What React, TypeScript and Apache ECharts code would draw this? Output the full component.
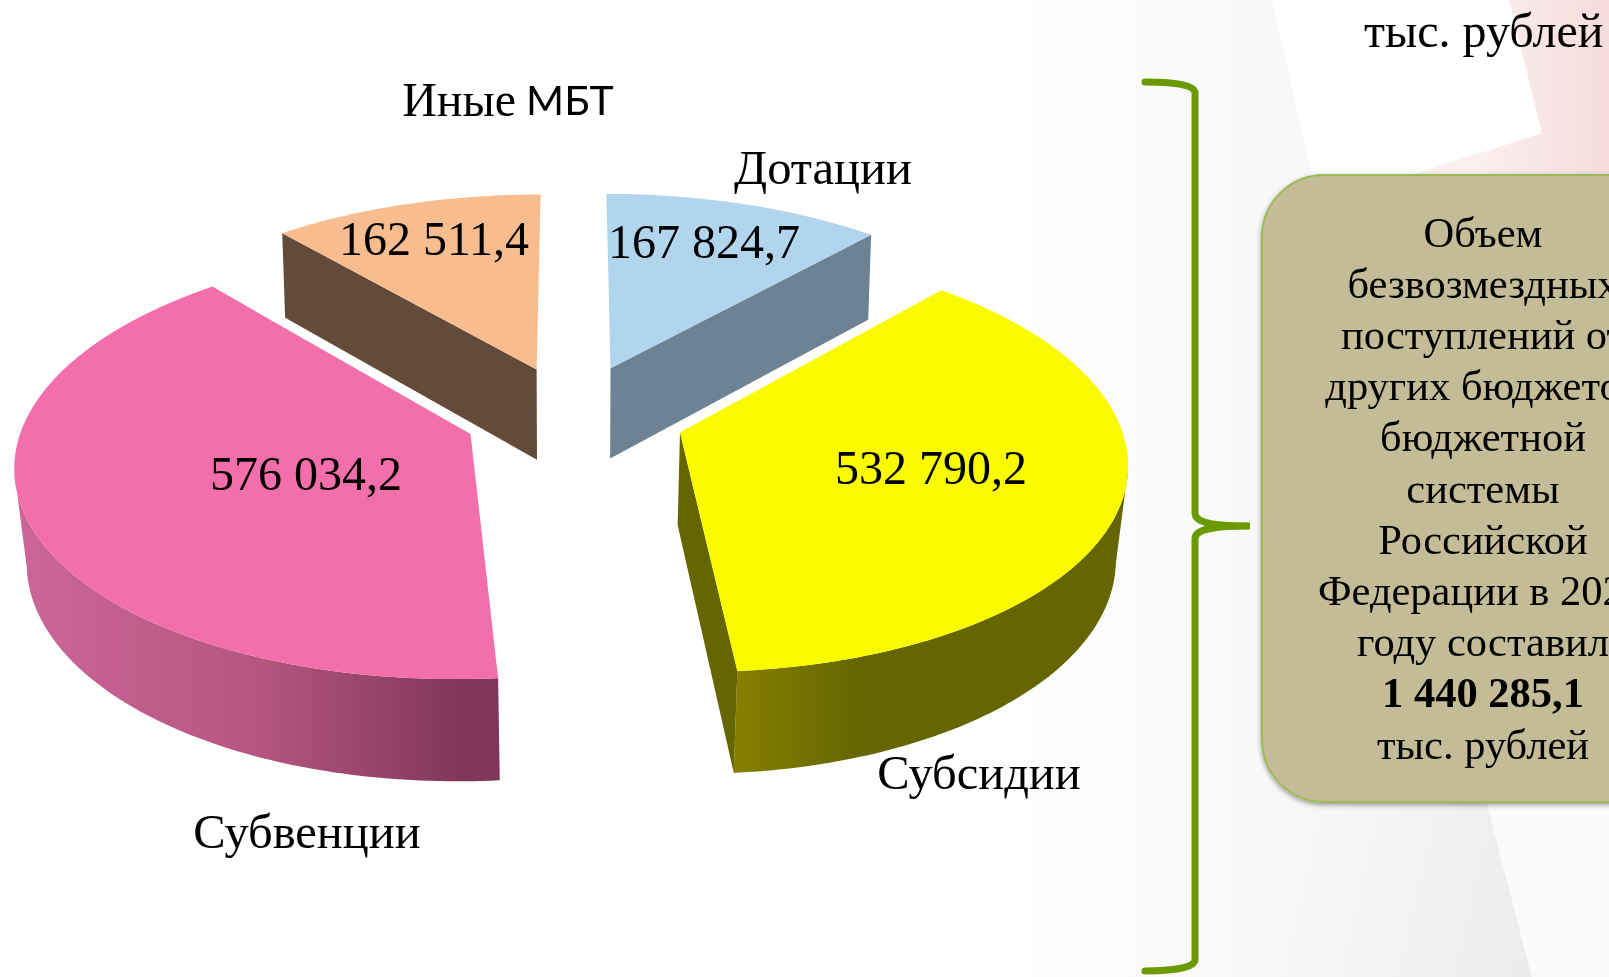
import React, { useEffect, useRef } from "react";
import * as echarts from "echarts";

// ---- data ----
const categories = ["Дотации", "Субсидии", "Субвенции", "Иные МБТ"];
const values = [167824.7, 532790.2, 576034.2, 162511.4];
const valueLabels = ["167 824,7", "532 790,2", "576 034,2", "162 511,4"];
const unitLabel = "тыс. рублей";
const boxLines = [
  "Объем",
  "безвозмездных",
  "поступлений от",
  "других бюджетов",
  "бюджетной",
  "системы",
  "Российской",
  "Федерации в 202",
  "году составил",
  "1 440 285,1",
  "тыс. рублей",
];

// ---- styles ----
const topColors = ["#b1d5ec", "#fbfb00", "#f26fab", "#f7bd8e"];
const edgeColors = ["#6d8393", "#666600", "", "#644a38"];
const edgeSide = ["end", "end", "", "start"];
const SERIF = '"Liberation Serif", serif';

// ---- projection of the exploded disc ----
const CX = 573, CY = 414, R = 445, EXPLODE = 107.75, F = 3489, TILT = 0.468, DEPTH = 92;
const WALL_FROM = 100, WALL_TO = 260;
const radiusAdj = [-2, -7, 0, 0];
const explodeAdj = [0, 4, 2, 0];
const yAdj = [0, 1.5, 0, 1.5];
const bottomShrink = [0.99, 0.978, 0.978, 0.99];
const project = (x: number, z: number, i: number, bottom = false) => {
  const s = F / (F - z);
  const px = x * s;
  const py = TILT * z * s + yAdj[i];
  return bottom
    ? [CX + px * bottomShrink[i], CY + py + DEPTH * Math.pow(s, 0.7)]
    : [CX + px, CY + py];
};
const rad = (d: number) => (d * Math.PI) / 180;

// ---- label layout ----
const valuePos = [[704, 241.5], [931, 467.5], [306, 473], [434, 238.5]];
const namePos = [[823, 167], [979, 772], [307, 831], [508, 99]];

const total = values.reduce((a, b) => a + b, 0);

const wallFill = [
  null,
  new echarts.graphic.LinearGradient(735, 0, 857, 0, [
    { offset: 0, color: "#858000" },
    { offset: 1, color: "#666600" },
  ], true),
  new echarts.graphic.LinearGradient(20, 0, 497, 0, [
    { offset: 0, color: "#cc6699" },
    { offset: 0.5, color: "#b5567f" },
    { offset: 0.93, color: "#7f3759" },
    { offset: 1, color: "#7f3759" },
  ], true),
  null,
];

const renderSlice = (params: any, api: any) => {
  const i = params.dataIndex;
  const v = api.value(0);
  let before = 0;
  for (let k = 0; k < i; k++) before += values[k];
  const a0 = (before / total) * 360;
  const a1 = ((before + v) / total) * 360;
  const mid = rad((a0 + a1) / 2);
  const ex = EXPLODE + explodeAdj[i];
  const rr = R + radiusAdj[i];
  const ox = Math.sin(mid) * ex;
  const oz = -Math.cos(mid) * ex;
  const at = (deg: number, r: number, bottom = false) =>
    project(ox + Math.sin(rad(deg)) * r, oz - Math.cos(rad(deg)) * r, i, bottom);

  const children: any[] = [];
  // outer wall, front part only, up to the silhouette of the disc
  const w0 = Math.max(a0, WALL_FROM);
  const w1 = Math.min(a1, WALL_TO);
  if (w1 > w0 && wallFill[i]) {
    const upper: number[][] = [];
    const lower: number[][] = [];
    for (let d = w0; d <= w1 + 1e-6; d += 1) {
      upper.push(at(d, rr));
      lower.unshift(at(d, rr, true));
    }
    upper.push(at(w1, rr));
    lower.unshift(at(w1, rr, true));
    children.push({
      type: "polygon",
      shape: { points: upper.concat(lower) },
      style: { fill: wallFill[i] },
    });
  }
  // radial wall
  if (edgeSide[i]) {
    const e = edgeSide[i] === "end" ? a1 : a0;
    children.push({
      type: "polygon",
      shape: {
        points: [at(0, 0), at(e, rr), at(e, rr, true), at(0, 0, true)],
      },
      style: { fill: edgeColors[i] },
    });
  }
  // top face
  const face: number[][] = [at(0, 0)];
  for (let d = a0; d < a1; d += 1) face.push(at(d, rr));
  face.push(at(a1, rr));
  children.push({
    type: "polygon",
    shape: { points: face },
    style: { fill: topColors[i] },
  });
  // value label
  children.push({
    type: "text",
    z2: 10,
    style: {
      text: valueLabels[i],
      x: valuePos[i][0],
      y: valuePos[i][1],
      align: "center",
      verticalAlign: "middle",
      fontFamily: SERIF,
      fontSize: 48,
      fill: "#000",
    },
  });
  // name label
  const name = categories[i];
  const parts = name === "Иные МБТ"
    ? {
        text: "{a|Иные}   {b|МБТ}",
        rich: {
          a: { fontFamily: SERIF, fontSize: 48, fill: "#000", color: "#000" },
          b: { fontFamily: "Lato, sans-serif", fontSize: 41, fill: "#000", color: "#000" },
        },
      }
    : { text: name, fontFamily: SERIF, fontSize: 48.5, fill: "#000" };
  children.push({
    type: "text",
    z2: 10,
    style: {
      ...parts,
      x: namePos[i][0],
      y: namePos[i][1],
      align: "center",
      verticalAlign: "middle",
    },
  });
  return { type: "group", children };
};

echarts.graphic.registerShape(
  "brace",
  echarts.graphic.extendPath(
    "M1145 82 C1170 82 1195 84 1195 93 L1195 513 C1195 521 1206 526 1250 526 C1206 526 1195 531 1195 539 L1195 960 C1195 968 1170 971 1145 971",
    {}
  )
);

const grad = (x0: number, y0: number, x1: number, y1: number, c0: string, c1: string) =>
  new echarts.graphic.LinearGradient(x0, y0, x1, y1, [
    { offset: 0, color: c0 },
    { offset: 1, color: c1 },
  ], true);

const boxTexts = boxLines.map((line, i) => {
  const clipped = line === "Федерации в 202";
  return {
    type: "text",
    style: {
      text: line,
      x: clipped ? 1318 : 1483,
      y: 232 + i * 51.2,
      align: clipped ? "left" : "center",
      verticalAlign: "middle",
      fontFamily: SERIF,
      fontSize: 42.5,
      fontWeight: line === "1 440 285,1" ? "bold" : "normal",
      fill: "#000",
    },
  };
});

const background = [
  { type: "rect", shape: { x: 0, y: 0, width: 1609, height: 977 }, style: { fill: "#ffffff" } },
  { type: "rect", shape: { x: 1000, y: 0, width: 609, height: 977 }, style: { fill: grad(1000, 0, 1280, 0, "#ffffff", "#f8f8f8") } },
  { type: "polygon", shape: { points: [[1272, 0], [1509, 0], [1542, 133], [1409, 175], [1312, 175]] }, style: { fill: "#ffffff" } },
  { type: "polygon", shape: { points: [[1509, 0], [1609, 0], [1609, 180], [1400, 180], [1542, 133]] }, style: { fill: grad(1480, 60, 1609, 60, "#fbeeee", "#f5dcdc") } },
  { type: "polygon", shape: { points: [[1270, 800], [1486, 800], [1532, 977], [1270, 977]] }, style: { fill: grad(1270, 900, 1530, 960, "#f8f8f8", "#ececec") } },
  { type: "polygon", shape: { points: [[1486, 800], [1609, 800], [1609, 977], [1532, 977]] }, style: { fill: "#fbfbfb" } },
];

export default function App() {
  const ref = useRef<HTMLDivElement>(null);
  useEffect(() => {
    document.documentElement.style.overflow = "hidden";
    const chart = echarts.init(ref.current!, undefined, { renderer: "svg" });
    chart.setOption({
      animation: false,
      graphic: [
        ...background,
        { type: "brace", style: { fill: "none", stroke: "#6a9a00", lineWidth: 7, lineCap: "round" } },
        {
          type: "rect",
          shape: { x: 1262, y: 175, width: 420, height: 627, r: 62 },
          style: {
            fill: "#c4bc96",
            stroke: "#9bbb59",
            lineWidth: 2,
            shadowBlur: 5,
            shadowColor: "rgba(0,0,0,0.4)",
            shadowOffsetY: 2,
          },
        },
        { type: "text", style: { text: unitLabel, x: 1364, y: 30, align: "left", verticalAlign: "middle", fontFamily: SERIF, fontSize: 48, fill: "#000" } },
        ...boxTexts,
      ],
      series: [
        {
          type: "custom",
          coordinateSystem: "none",
          z: 5,
          silent: true,
          data: values.map((v) => [v]),
          renderItem: renderSlice,
        },
      ],
    });
    return () => chart.dispose();
  }, []);
  return <div ref={ref} style={{ position: "fixed", left: 0, top: 0, width: 1609, height: 977 }} />;
}
